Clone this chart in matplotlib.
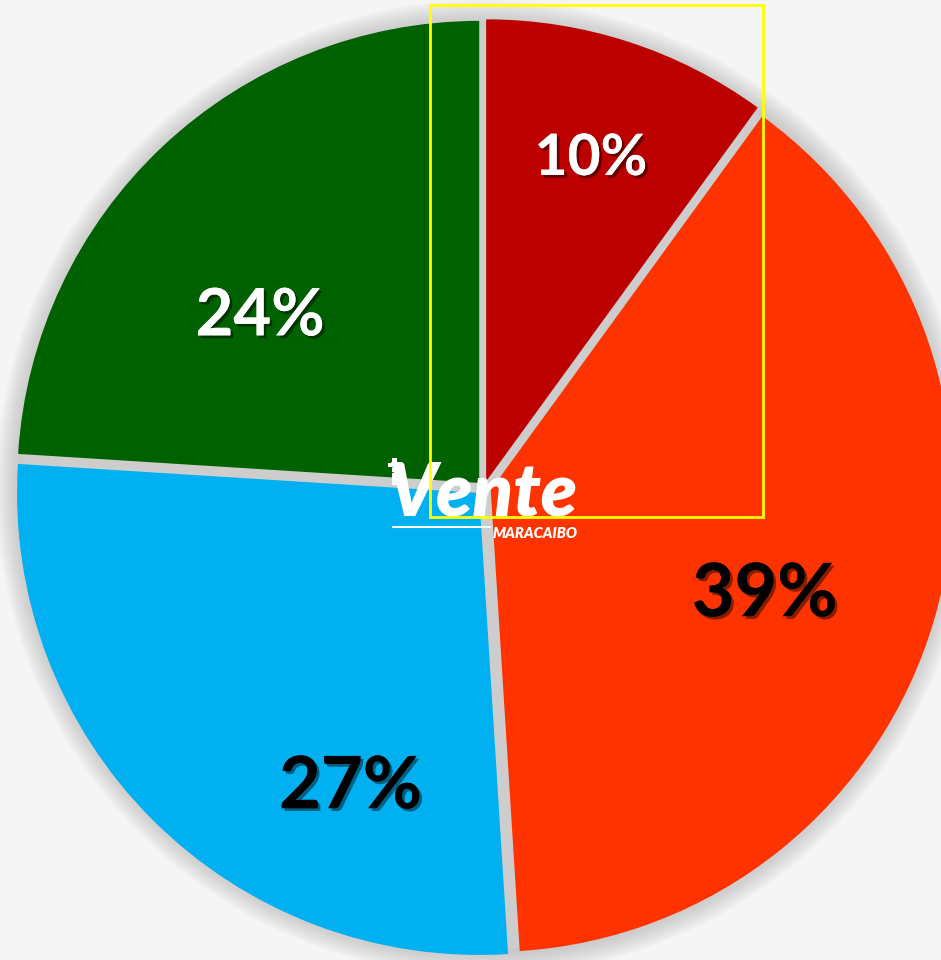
import matplotlib.pyplot as plt
import matplotlib.patheffects as pe
from matplotlib.patches import Circle, Rectangle
import numpy as np

# datos
porcentajes = [10, 39, 27, 24]
colores = ['#BC0000', '#FF3300', '#00B0F0', '#006100']
color_texto = ['white', 'black', 'black', 'white']
tam_texto = [41, 53, 52, 47]

W, H = 941, 960
cx, cy, R = 484, H - 488, 462

fig = plt.figure(figsize=(W / 100, H / 100), dpi=100)
fig.patch.set_facecolor('#f5f5f5')
ax = fig.add_axes([0, 0, 1, 1])
ax.set_facecolor('#f5f5f5')

# sombra alrededor del grafico
for i in range(16):
    ax.add_patch(Circle((cx, cy), R + 26 - i * 1.5, color='#a8a8a8',
                        alpha=0.045, lw=0, zorder=0))
ax.add_patch(Circle((cx, cy), R, color='#cdcdcd', lw=0, zorder=0.5))

wedges, textos = ax.pie(porcentajes, colors=colores, startangle=90,
                        counterclock=False, radius=R, center=(cx, cy),
                        explode=[7] * 4, labeldistance=None,
                        wedgeprops=dict(lw=0, zorder=1), frame=True)
ax.set_xlim(0, W)
ax.set_ylim(0, H)
ax.set_aspect('equal')
ax.axis('off')

# ubicacion de etiquetas: fraccion del radio y giro respecto al centro del sector
dist = [0.75, 0.65, 0.71, 0.61]
giro = [0, -4.6, 21, 9.4]
ang = 90
for p, c, t, d, g in zip(porcentajes, color_texto, tam_texto, dist, giro):
    medio = np.deg2rad(ang - p * 3.6 / 2 + g)
    ang -= p * 3.6
    x = cx + d * R * np.cos(medio)
    y = cy + d * R * np.sin(medio)
    txt = ax.text(x, y, f'{p}%', color=c, fontsize=t, fontweight='bold',
                  family='Lato', ha='center', va='center', zorder=5)
    txt.set_path_effects([pe.withSimplePatchShadow(offset=(2, -2),
                                                   shadow_rgbFace='black',
                                                   alpha=0.45),
                          pe.Normal()])

# logo
ax.text(388, H - 515, 'Vente', color='white', fontsize=53, fontweight='heavy',
        style='italic', family='Lato', ha='left', va='baseline', zorder=6)
ax.text(493, H - 538, 'MARACAIBO', color='white', fontsize=10.5,
        fontweight='heavy', style='italic', family='Lato', ha='left',
        va='baseline', zorder=6)
ax.plot([393, 490], [H - 527, H - 527], color='white', lw=1.5, zorder=6)
cuadros = [(392, 458, 5), (388, 463, 4), (396, 463, 4), (392, 468, 4),
           (392, 473, 8)]
for qx, qy, qs in cuadros:
    alto = 12 if qs == 8 else qs
    ax.add_patch(Rectangle((qx, H - qy - alto), qs, alto, color='white',
                           lw=0, zorder=6))

# recuadro amarillo
ax.add_patch(Rectangle((430, H - 517), 333, 512, fill=False,
                       edgecolor='#FFFF00', lw=2, zorder=7))

fig.savefig('out.png', dpi=100, facecolor=fig.get_facecolor())
